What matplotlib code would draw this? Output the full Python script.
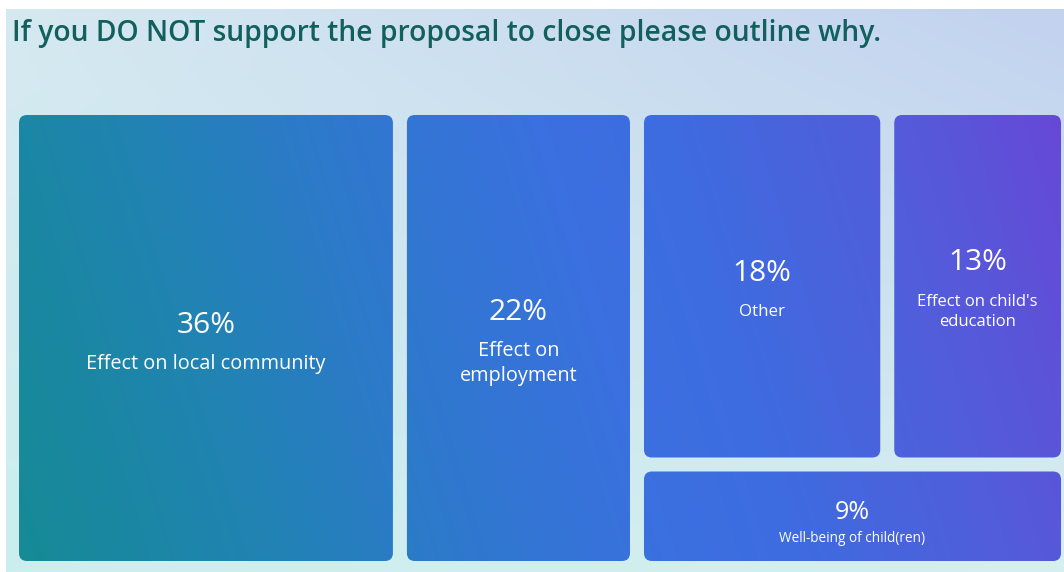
import numpy as np
import matplotlib.pyplot as plt
from matplotlib.patches import FancyBboxPatch
from matplotlib.colors import LinearSegmentedColormap, to_rgb

title = "If you DO NOT support the proposal to close please outline why."
values = [36, 22, 18, 13, 9]
pct_labels = ["36%", "22%", "18%", "13%", "9%"]
names = ["Effect on local community", "Effect on\nemployment", "Other",
         "Effect on child's\neducation", "Well-being of child(ren)"]

# text sizes per tile (pct, label)
pct_size = [21.5, 21.5, 21.5, 21.5, 18]
lab_size = [14.3, 14.3, 12.2, 12, 9.8]

W, H = 1064, 572
fig = plt.figure(figsize=(W / 100, H / 100), dpi=100)
fig.patch.set_facecolor("white")
ax = fig.add_axes([0, 0, 1, 1])
ax.set_xlim(0, W)
ax.set_ylim(H, 0)
ax.axis("off")

# background: bilinear blend between four corner colours
tl, tr = np.array(to_rgb("#d6e9f1")), np.array(to_rgb("#c2d2ef"))
bl, br = np.array(to_rgb("#cbeeee")), np.array(to_rgb("#d6eff1"))
u, v = np.meshgrid(np.linspace(0, 1, 400), np.linspace(0, 1, 220))
u, v = u[..., None], v[..., None]
bg = (1 - v) * ((1 - u) * tl + u * tr) + v * ((1 - u) * bl + u * br)
ax.imshow(bg, extent=(6, W, H, 9), aspect="auto", zorder=0)

# tile gradient (bottom-left teal -> top-right purple)
tile_cmap = LinearSegmentedColormap.from_list(
    "tiles", [(0.0, "#158b93"), (0.22, "#2183b3"), (0.37, "#2e79cc"),
              (0.55, "#3b70e0"), (0.65, "#3e6ce0"), (0.82, "#525ddb"),
              (1.0, "#6a45d6")])
gx, gy = np.meshgrid(np.arange(W), np.arange(H))
t_tile = np.clip((gx + 0.3 * (H - gy)) / (W + 0.3 * H), 0, 1)
grad = tile_cmap(t_tile)

# treemap layout: two columns, then a group (two on top, one below)
x0, x1, y0, y1, gap = 19, 1061, 115, 561, 14
total = sum(values)
span_w = (x1 - x0) + gap
span_h = (y1 - y0) + gap
boxes = []
cx = x0
for v in values[:2]:
    w = span_w * v / total
    boxes.append((cx, y0, w - gap, span_h - gap))
    cx += w
grp = values[2:]
gw = span_w * sum(grp) / total
top_h = span_h * (grp[0] + grp[1]) / sum(grp)
gx0 = cx
for v in grp[:2]:
    w = gw * v / (grp[0] + grp[1])
    boxes.append((gx0, y0, w - gap, top_h - gap))
    gx0 += w
boxes.append((cx, y0 + top_h, gw - gap, span_h - top_h - gap))

font = "Open Sans"
for i, (bx, by, bw, bh) in enumerate(boxes):
    patch = FancyBboxPatch((bx, by), bw, bh,
                           boxstyle="round,pad=0,rounding_size=8",
                           linewidth=0, facecolor="none", zorder=1)
    ax.add_patch(patch)
    im = ax.imshow(grad, extent=(0, W, H, 0), aspect="auto", zorder=1)
    im.set_clip_path(patch)

    ccx = bx + bw / 2
    ccy = by + bh / 2
    n = names[i].count("\n") + 1
    g = 38 if i < 4 else 26
    ls = 25 if i < 3 else 22
    off = 6.5 if i < 4 else 9.5
    py = ccy + off - (g + (n - 1) * ls) / 2
    ax.text(ccx, py, pct_labels[i], color="white", fontsize=pct_size[i],
            ha="center", va="center", family=font, zorder=3)
    ax.text(ccx, py + g + (n - 1) * ls / 2, names[i], color="white",
            fontsize=lab_size[i], ha="center", va="center", family=font,
            linespacing=1.3, zorder=3)

ax.text(12, 33, title, color="#11605e", fontsize=20.3, fontweight="semibold",
        family=font, ha="left", va="center", zorder=3)

fig.savefig("out.png", dpi=100, facecolor="white")
